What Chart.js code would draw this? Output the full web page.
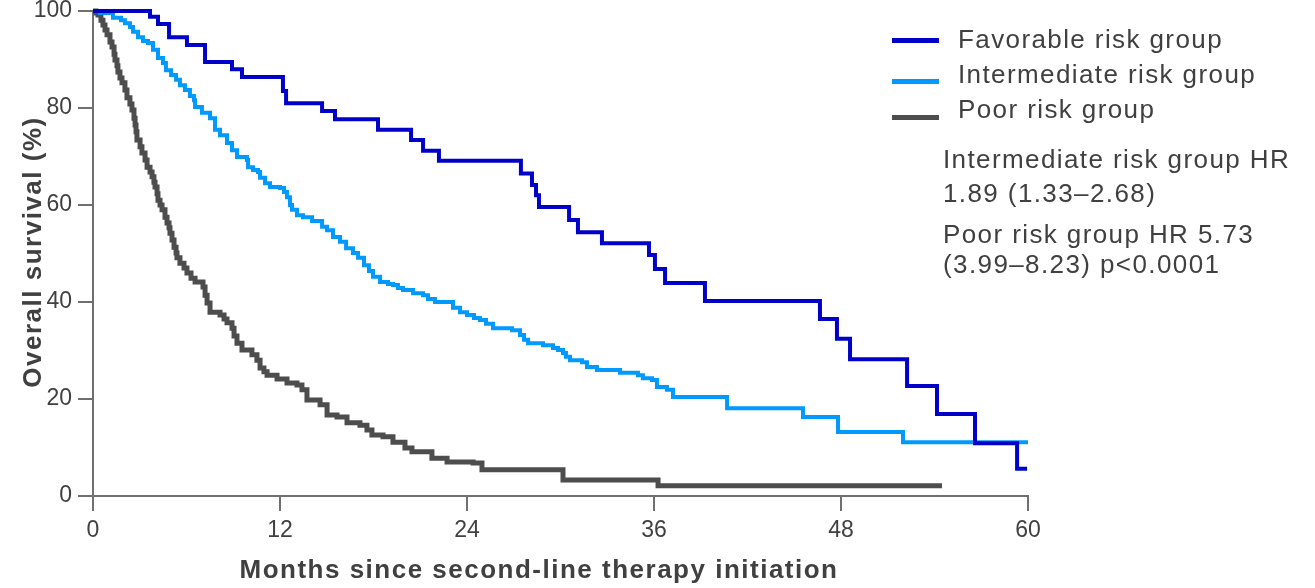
<!DOCTYPE html>
<html lang="en">
<head>
<meta charset="UTF-8">
<title>Overall survival by risk group</title>
<script src="https://cdn.jsdelivr.net/npm/chart.js"></script>
<style>
    body { margin: 0; background: #fff; font-family: "Liberation Sans", Arial, sans-serif; }
    .wrap { position: relative; width: 1315px; height: 588px; }
    .key-line { position: absolute; left: 892px; width: 47px; height: 5px; }
    .txt { position: absolute; left: 943px; font-size: 26px; line-height: 30px; letter-spacing: 1.4px; color: #404040; white-space: nowrap; }
    .axis-title { position: absolute; font-size: 26px; font-weight: bold; line-height: 30px; letter-spacing: 1.5px; color: #404040; text-align: center; white-space: nowrap; }
</style>
</head>
<body>
<div class="wrap">
    <canvas id="km"></canvas>
    <div class="key-line" style="top:38px;background:#0000c8"></div>
    <div class="key-line" style="top:79px;background:#0099ff"></div>
    <div class="key-line" style="top:115px;background:#4d4d4d"></div>
    <div class="txt" style="left:958px;top:24px">Favorable risk group</div>
    <div class="txt" style="left:958px;top:59px">Intermediate risk group</div>
    <div class="txt" style="left:958px;top:94px">Poor risk group</div>
    <div class="txt" style="top:144px">Intermediate risk group HR</div>
    <div class="txt" style="top:178px">1.89 (1.33–2.68)</div>
    <div class="txt" style="top:219px">Poor risk group HR 5.73</div>
    <div class="txt" style="top:249px">(3.99–8.23) p&lt;0.0001</div>
    <div class="axis-title" style="left:0;width:1078px;top:554px">Months since second-line therapy initiation</div>
    <div class="axis-title" style="left:-168px;width:400px;top:237px;transform:rotate(-90deg)">Overall survival (%)</div>
</div>

<script>
    // Kaplan-Meier steps: month of each drop and survival (%) after it
    const favMonths = [0, 3.66, 4.17, 4.88, 6.03, 7.19, 8.92, 9.56, 12.19, 12.39, 14.70, 15.53, 18.29, 20.41, 21.18, 22.20,
        27.46, 28.17, 28.43, 28.62, 30.55, 31.12, 32.66, 35.68, 36.06, 36.71, 39.27, 46.65, 47.74, 48.58, 52.24, 54.16,
        56.60, 59.30, 59.94];
    const favSurv = [100, 98.8, 97.3, 94.6, 93.0, 89.5, 88.0, 86.4, 83.5, 81.0, 79.4, 77.7, 75.5, 73.4, 71.2, 69.1,
        66.5, 64.1, 62.0, 59.6, 56.9, 54.4, 52.1, 49.7, 46.8, 43.9, 40.2, 36.5, 32.4, 28.2, 22.7, 16.9,
        10.9, 5.6, 5.6];

    const intMonths = [0, 0.45, 1.28, 1.80, 2.05, 2.37, 2.57, 2.89, 3.21, 3.53, 3.85, 4.17, 4.49, 4.68, 5.01, 5.33,
        5.58, 5.90, 6.22, 6.48, 6.55, 6.99, 7.51, 7.83, 8.15, 8.60, 8.92, 9.24, 9.88, 9.95, 10.27, 10.59, 10.72, 11.04,
        11.36, 12.00, 12.26, 12.45, 12.64, 12.77, 13.09, 13.48, 14.06, 14.70, 15.02, 15.40, 15.85, 16.24, 16.68, 17.01,
        17.39, 17.71, 17.97, 18.42, 18.93, 19.25, 19.57, 19.89, 20.54, 21.18, 21.50, 21.95, 23.10, 23.55, 24.00, 24.45,
        24.83, 25.22, 25.67, 26.89, 27.40, 27.66, 27.92, 28.88, 29.52, 29.84, 30.16, 30.35, 30.61, 31.38, 31.70, 32.34,
        33.82, 34.97, 35.29, 35.87, 36.19, 36.83, 37.22, 40.69, 45.56, 47.81, 51.98, 60];
    const intSurv = [100, 99.6, 98.6, 98.1, 97.5, 96.7, 95.7, 94.6, 93.8, 93.4, 92.0, 90.3, 89.3, 87.8, 86.8, 85.8,
        84.7, 83.7, 82.5, 81.6, 80.2, 79.0, 77.9, 75.5, 74.4, 72.8, 71.3, 69.9, 69.3, 67.8, 67.2, 66.8, 65.6, 64.5,
        63.7, 63.5, 62.7, 61.6, 60.0, 59.0, 57.9, 57.5, 56.7, 55.5, 54.8, 53.4, 52.4, 51.1, 50.1, 49.1,
        47.6, 46.4, 45.2, 44.1, 43.7, 43.5, 42.9, 42.5, 41.8, 41.4, 40.6, 40.0, 38.8, 37.9, 37.3, 36.7,
        36.3, 35.5, 34.6, 34.2, 33.2, 32.2, 31.5, 31.1, 30.5, 30.1, 29.5, 28.7, 28.0, 27.6, 26.6, 26.0,
        25.4, 24.9, 24.3, 23.9, 22.5, 21.9, 20.4, 18.1, 16.3, 13.2, 11.1, 11.1];

    const poorMonths = [0, 0.19, 0.32, 0.51, 0.64, 0.77, 0.90, 1.09, 1.22, 1.35, 1.41, 1.54, 1.60, 1.73, 1.86, 2.05,
        2.18, 2.37, 2.50, 2.63, 2.70, 2.76, 2.82, 3.02, 3.14, 3.34, 3.47, 3.66, 3.79, 3.91, 3.98, 4.11, 4.17, 4.30,
        4.43, 4.62, 4.75, 4.88, 4.94, 5.07, 5.20, 5.33, 5.39, 5.58, 5.84, 6.03, 6.29, 6.55, 7.06, 7.19, 7.32, 7.51,
        8.15, 8.41, 8.60, 8.92, 9.05, 9.24, 9.56, 10.20, 10.52, 10.72, 10.97, 11.17, 11.81, 12.45, 13.09, 13.41, 13.73,
        14.57, 15.02, 15.66, 16.30, 17.13, 17.58, 17.90, 18.61, 19.25, 20.02, 20.47, 21.75, 22.72, 24.39, 24.96,
        30.16, 36.26, 54.48];
    const poorSurv = [100, 99.6, 99.2, 98.1, 97.1, 96.1, 95.1, 93.6, 92.6, 91.1, 89.9, 88.7, 87.4, 86.2, 85.2, 83.7,
        82.1, 80.8, 79.6, 77.9, 76.5, 75.1, 73.4, 72.0, 70.7, 69.3, 67.8, 66.8, 65.8, 64.7, 63.7, 62.3, 61.0, 60.0,
        59.0, 57.5, 56.3, 55.3, 54.2, 52.8, 51.3, 50.1, 49.1, 48.0, 47.0, 46.0, 44.9, 44.1, 43.1, 41.4, 39.8, 37.9,
        37.3, 36.5, 35.7, 34.6, 33.0, 31.5, 30.1, 29.1, 28.0, 26.4, 25.6, 24.9, 24.1, 23.3, 22.9, 21.9, 19.8,
        18.8, 16.7, 16.3, 15.1, 14.6, 13.6, 12.6, 12.2, 11.1, 9.9, 9.1, 7.8, 7.0, 6.8, 5.4,
        3.3, 2.1, 2.1];

    const xTicks = [0, 12, 24, 36, 48, 60];
    const yTicks = [0, 20, 40, 60, 80, 100];

    const FONT = '"Liberation Sans", Arial, sans-serif';
    const AXIS = '#707070';
    const TEXT = '#404040';

    function pts(xs, ys) {
        return xs.map((x, i) => ({ x: x, y: ys[i] }));
    }

    function curve(label, xs, ys, color, width) {
        return {
            label: label,
            data: pts(xs, ys),
            borderColor: color,
            backgroundColor: color,
            borderWidth: width,
            stepped: 'before',
            pointRadius: 0,
            borderJoinStyle: 'miter',
            borderCapStyle: 'butt',
            clip: false
        };
    }

    new Chart(document.getElementById('km'), {
        type: 'line',
        data: {
            datasets: [
                curve('Favorable risk group', favMonths, favSurv, '#0000c8', 4),
                curve('Intermediate risk group', intMonths, intSurv, '#0099ff', 4),
                curve('Poor risk group', poorMonths, poorSurv, '#4d4d4d', 5)
            ]
        },
        options: {
            responsive: true,
            maintainAspectRatio: false,
            animation: false,
            layout: { padding: { top: 11, right: 287, left: 0, bottom: 0 } },
            plugins: { legend: { display: false }, tooltip: { enabled: false } },
            scales: {
                x: {
                    type: 'linear',
                    min: 0,
                    max: 60,
                    afterBuildTicks: s => { s.ticks = xTicks.map(v => ({ value: v })); },
                    afterFit: s => { s.height = 92; },
                    grid: { drawOnChartArea: false, drawTicks: true, tickLength: 15, color: AXIS, lineWidth: 2 },
                    border: { display: true, color: AXIS, width: 2 },
                    ticks: { padding: 6, color: TEXT, maxRotation: 0, autoSkip: false, font: { family: FONT, size: 23 } }
                },
                y: {
                    min: 0,
                    max: 100,
                    afterBuildTicks: s => { s.ticks = yTicks.map(v => ({ value: v })); },
                    afterFit: s => { s.width = 93; s.paddingTop = 0; s.paddingBottom = 0; },
                    grid: { drawOnChartArea: false, drawTicks: true, tickLength: 15, color: AXIS, lineWidth: 2 },
                    border: { display: true, color: AXIS, width: 2 },
                    ticks: { padding: 6, color: TEXT, font: { family: FONT, size: 23 } }
                }
            }
        }
    });
</script>
</body>
</html>
